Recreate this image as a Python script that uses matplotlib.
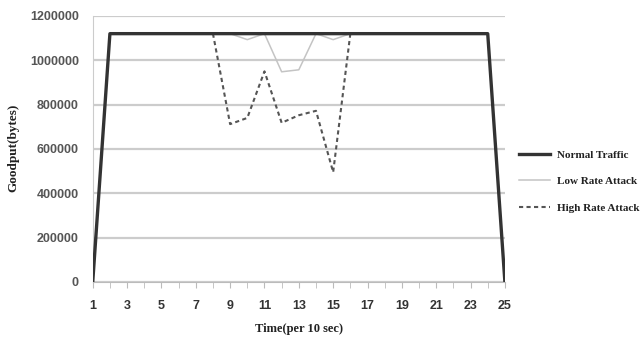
import matplotlib.pyplot as plt
import numpy as np

# Data
t = np.arange(1, 26)
normal = [0] + [1120000] * 23 + [0]
low_t = [9, 10, 11, 12, 13, 14, 15, 16]
low = [1120000, 1093000, 1120000, 948000, 957000, 1120000, 1093000, 1120000]
high_t = [8, 9, 10, 11, 12, 13, 14, 15, 16]
high = [1120000, 712000, 740000, 950000, 718000, 752000, 772000, 495000, 1120000]
xticks = list(range(1, 26, 2))
yticks = list(range(0, 1200001, 200000))

fig = plt.figure(figsize=(6.44, 3.46), dpi=100)
ax = fig.add_axes([0.144, 0.185, 0.640, 0.769])

ax.plot(t, normal, color='#333333', lw=2.4, label='Normal Traffic', zorder=3)
ax.plot(low_t, low, color='#c4c4c4', lw=1.1, label='Low Rate Attack', zorder=2)
ax.plot(high_t, high, color='#555555', lw=1.5, ls=(0, (2, 1.6)),
        label='High Rate Attack', zorder=2)

ax.set_xlim(1, 25)
ax.set_ylim(0, 1200000)
ax.set_xticks(xticks)
ax.set_xticks(t, minor=True)
ax.set_yticks(yticks)
ax.set_xticklabels([str(v) for v in xticks], family='Liberation Sans',
                   fontsize=9, color='#333333', weight='bold')
ax.set_yticklabels([str(v) for v in yticks], family='Liberation Sans',
                   fontsize=9, color='#555555', weight='bold')
ax.yaxis.grid(True, color='#cccccc', lw=1.6)
ax.set_axisbelow(True)
for s in ['top', 'right']:
    ax.spines[s].set_visible(False)
ax.spines['left'].set_color('#cccccc')
ax.spines['bottom'].set_color('#bbbbbb')
ax.tick_params(axis='y', length=0, pad=10)
ax.tick_params(axis='x', which='both', length=4, color='#bbbbbb', pad=9,
               direction='out')

ax.set_xlabel('Time(per 10 sec)', family='Liberation Serif', weight='bold',
              fontsize=9, color='#222222', labelpad=8)
fig.text(0.02, 0.572, 'Goodput(bytes)', rotation=90, va='center', ha='center',
         family='Liberation Serif', weight='bold', fontsize=9.5, color='#222222')

leg = fig.legend(loc='upper left', bbox_to_anchor=(0.79, 0.595), frameon=False,
                 prop={'family': 'Liberation Serif', 'weight': 'bold', 'size': 8},
                 handlelength=2.8, labelspacing=1.5, handletextpad=0.6)
for txt in leg.get_texts():
    txt.set_color('#222222')

fig.savefig('out.png', dpi=100)
